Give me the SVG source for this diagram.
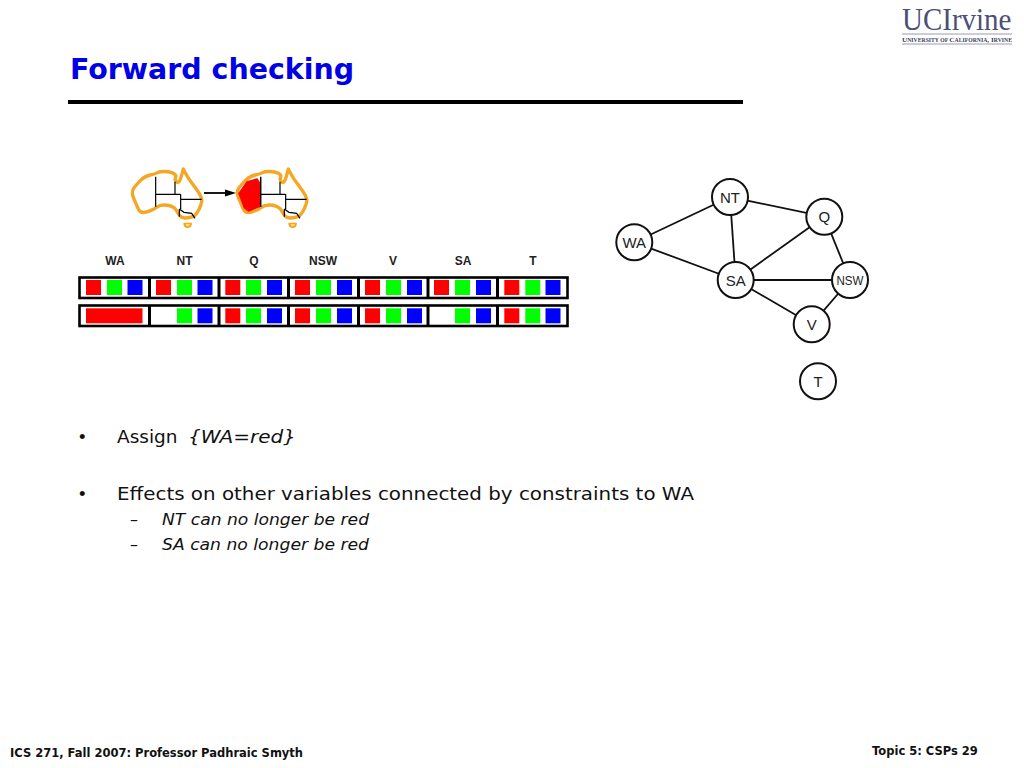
<svg xmlns="http://www.w3.org/2000/svg" width="1024" height="768" viewBox="0 0 1024 768" font-family="'DejaVu Sans',Verdana,sans-serif">
<style>
.ar{font-family:"Liberation Sans",Arial,sans-serif;fill:#222}
.h{font-size:12px;font-weight:bold;text-anchor:middle}
.n{font-size:15px;text-anchor:middle}
.c{fill:#fff;stroke:#111;stroke-width:2}
.e{stroke:#111;stroke-width:1.8;fill:none}
.b{font-size:18.5px;fill:#111}
.s{font-size:16px;font-style:italic;fill:#111}
.f{font-size:11.5px;font-weight:bold;fill:#111}
.box{fill:#fff;stroke:#000;stroke-width:2.6}
.R{fill:#f00}.G{fill:#0f0}.B{fill:#00f}
.o{fill:none;stroke:#f5a623;stroke-linejoin:round}
.k{fill:none;stroke:#000;stroke-width:1.1}
.se{font-family:"Liberation Serif",serif}
</style>
<defs>
<g id="map" transform="scale(0.3333)">
<path class="o" style="stroke-width:10" d="M41.500 99Q50 88 62.500 75.500Q75 63 90.500 60Q106 57 113 53Q120 49 135 49.500Q150 50 160 55Q170 60 166.500 68Q163 76 170.500 81Q178 86 184 64L190 42L197.500 56Q205 70 215 83.500Q225 97 234 109.500Q243 122 245 132Q247 142 237.500 162Q228 182 216.500 185.500Q205 189 194.500 189Q184 189 178 180.500Q172 172 168.500 165Q165 158 155 154Q145 150 131.500 150Q118 150 109 157.500Q100 165 81 170.500Q62 176 56 164Q50 152 41.500 131Q33 110 41.500 99Z"/>
<path d="M190 203h26q0 16-13 16t-13-16z" fill="#f5a623"/>
<path d="M197 207h12q0 7-6 7t-6-7z" fill="#ffe27a"/>
<path class="k" style="stroke-width:3.6" d="M107 65V155M107 118H182M165 80V118M182 118V162M182 133H245M178 162V185M178 162L192 172L215 175L225 190"/>
</g>
<rect id="sq" width="15" height="15"/>
</defs>
<g id="title">
<text x="70" y="79" font-size="27.500" font-weight="bold" fill="#0000e6" textLength="284" lengthAdjust="spacingAndGlyphs">Forward checking</text>
<rect x="68" y="100" width="675" height="4" fill="#000"/>
</g>
<g id="logo" fill="#4a4f78">
<text class="se" transform="translate(902,30) scale(1,1.120)" font-size="29">UCIrvine</text>
<rect x="902" y="33.500" width="110" height="1" fill="#9a9cb0"/>
<text class="se" x="902" y="41.500" font-size="7" font-weight="bold" fill="#3d4060" textLength="110" lengthAdjust="spacingAndGlyphs">U<tspan font-size="5.500">NIVERSITY OF </tspan>C<tspan font-size="5.500">ALIFORNIA</tspan>, I<tspan font-size="5.500">RVINE</tspan></text>
<rect x="902" y="43.500" width="110" height="1" fill="#9a9cb0"/>
</g>
<g id="maps">
<use href="#map" x="120" y="155"/>
<g id="map2">
<use href="#map" x="225" y="155"/>
<path d="M239 193.500L247 182L257 179L259.500 183V206.500L248.500 211L244.500 208Z" fill="#f00" stroke="#f00" stroke-width="1.500" stroke-linejoin="round"/>
<path class="k" d="M260.700 177V207"/>
</g>
<path d="M204 193H226" stroke="#000" stroke-width="1.800"/>
<path d="M225 189.500L236 193L225 196.500Z" fill="#000"/>
</g>
<g id="domains">
<g class="h">
<text class="ar" x="115" y="265">WA</text><text class="ar" x="184.500" y="265">NT</text><text class="ar" x="254" y="265">Q</text><text class="ar" x="323" y="265">NSW</text><text class="ar" x="393" y="265">V</text><text class="ar" x="463" y="265">SA</text><text class="ar" x="533" y="265">T</text>
</g>
<g id="row1">
<rect class="box" x="79.500" y="277.500" width="488" height="20.500"/>
<path d="M149.500 277V299M219 277V299M288.500 277V299M358.500 277V299M428 277V299M497.500 277V299" stroke="#000" stroke-width="3"/>
<g transform="translate(0,280)">
<use href="#sq" class="R" x="86"/><use href="#sq" class="G" x="107"/><use href="#sq" class="B" x="127.500"/>
<use href="#sq" class="R" x="156"/><use href="#sq" class="G" x="177"/><use href="#sq" class="B" x="197.500"/>
<use href="#sq" class="R" x="225.300"/><use href="#sq" class="G" x="246"/><use href="#sq" class="B" x="267"/>
<use href="#sq" class="R" x="295"/><use href="#sq" class="G" x="316"/><use href="#sq" class="B" x="337"/>
<use href="#sq" class="R" x="365"/><use href="#sq" class="G" x="386"/><use href="#sq" class="B" x="407"/>
<use href="#sq" class="R" x="434"/><use href="#sq" class="G" x="455"/><use href="#sq" class="B" x="476"/>
<use href="#sq" class="R" x="504.300"/><use href="#sq" class="G" x="525.300"/><use href="#sq" class="B" x="545.500"/>
</g>
</g>
<g id="row2">
<rect class="box" x="79.500" y="305.500" width="488" height="20.500"/>
<path d="M149.500 305V327M219 305V327M288.500 305V327M358.500 305V327M428 305V327M497.500 305V327" stroke="#000" stroke-width="3"/>
<rect x="86" y="308.300" width="56.500" height="15" class="R"/>
<g transform="translate(0,308.300)">
<use href="#sq" class="G" x="177"/><use href="#sq" class="B" x="197.500"/>
<use href="#sq" class="R" x="225.300"/><use href="#sq" class="G" x="246"/><use href="#sq" class="B" x="267"/>
<use href="#sq" class="R" x="295"/><use href="#sq" class="G" x="316"/><use href="#sq" class="B" x="337"/>
<use href="#sq" class="R" x="365"/><use href="#sq" class="G" x="386"/><use href="#sq" class="B" x="407"/>
<use href="#sq" class="G" x="455"/><use href="#sq" class="B" x="476"/>
<use href="#sq" class="R" x="504.300"/><use href="#sq" class="G" x="525.300"/><use href="#sq" class="B" x="545.500"/>
</g>
</g>
</g>
<g id="connectors" class="e">
<path d="M634.300 242.300L730 197"/>
<path d="M634.300 242.300L735.700 280"/>
<path d="M730 197L735.700 280"/>
<path d="M730 197L824.300 216.700"/>
<path d="M735.700 280L824.300 216.700"/>
<path d="M824.300 216.700L850 280"/>
<path d="M735.700 280H850"/>
<path d="M735.700 280L811.700 324.300"/>
<path d="M850 280L811.700 324.300"/>
</g>
<g id="node-WA"><circle class="c" cx="634.300" cy="242.300" r="18"/><text class="ar n" x="634.300" y="247.500">WA</text></g>
<g id="node-NT"><circle class="c" cx="730" cy="197" r="18"/><text class="ar n" x="730" y="202.500">NT</text></g>
<g id="node-Q"><circle class="c" cx="824.300" cy="216.700" r="18"/><text class="ar n" x="824.300" y="222">Q</text></g>
<g id="node-SA"><circle class="c" cx="735.700" cy="280" r="18"/><text class="ar n" x="735.700" y="285.500">SA</text></g>
<g id="node-NSW"><circle class="c" cx="850" cy="280" r="18"/><text class="ar n" x="850" y="285" style="font-size:12.500px" textLength="27" lengthAdjust="spacingAndGlyphs">NSW</text></g>
<g id="node-V"><circle class="c" cx="811.700" cy="324.300" r="18"/><text class="ar n" x="811.700" y="329.500">V</text></g>
<g id="node-T"><circle class="c" cx="818" cy="381.300" r="18"/><text class="ar n" x="818" y="386.500">T</text></g>
<g id="body">
<text class="b" x="79" y="443" style="font-family:'Liberation Sans',sans-serif">•</text>
<text class="b" x="117" y="443">Assign</text>
<text class="b" x="188" y="443" font-style="italic" textLength="108" lengthAdjust="spacingAndGlyphs">{WA=red}</text>
<text class="b" x="79" y="500" style="font-family:'Liberation Sans',sans-serif">•</text>
<text class="b" x="117" y="500" textLength="577" lengthAdjust="spacingAndGlyphs">Effects on other variables connected by constraints to WA</text>
<text class="s" x="130" y="525" style="font-style:normal">–</text>
<text class="s" x="162" y="525" textLength="207" lengthAdjust="spacingAndGlyphs">NT can no longer be red</text>
<text class="s" x="130" y="550" style="font-style:normal">–</text>
<text class="s" x="162" y="550" textLength="207" lengthAdjust="spacingAndGlyphs">SA can no longer be red</text>
</g>
<g id="footer">
<text class="f" x="10" y="757">ICS 271, Fall 2007: Professor Padhraic Smyth</text>
<text class="f" x="872" y="755">Topic 5: CSPs 29</text>
</g>
</svg>
